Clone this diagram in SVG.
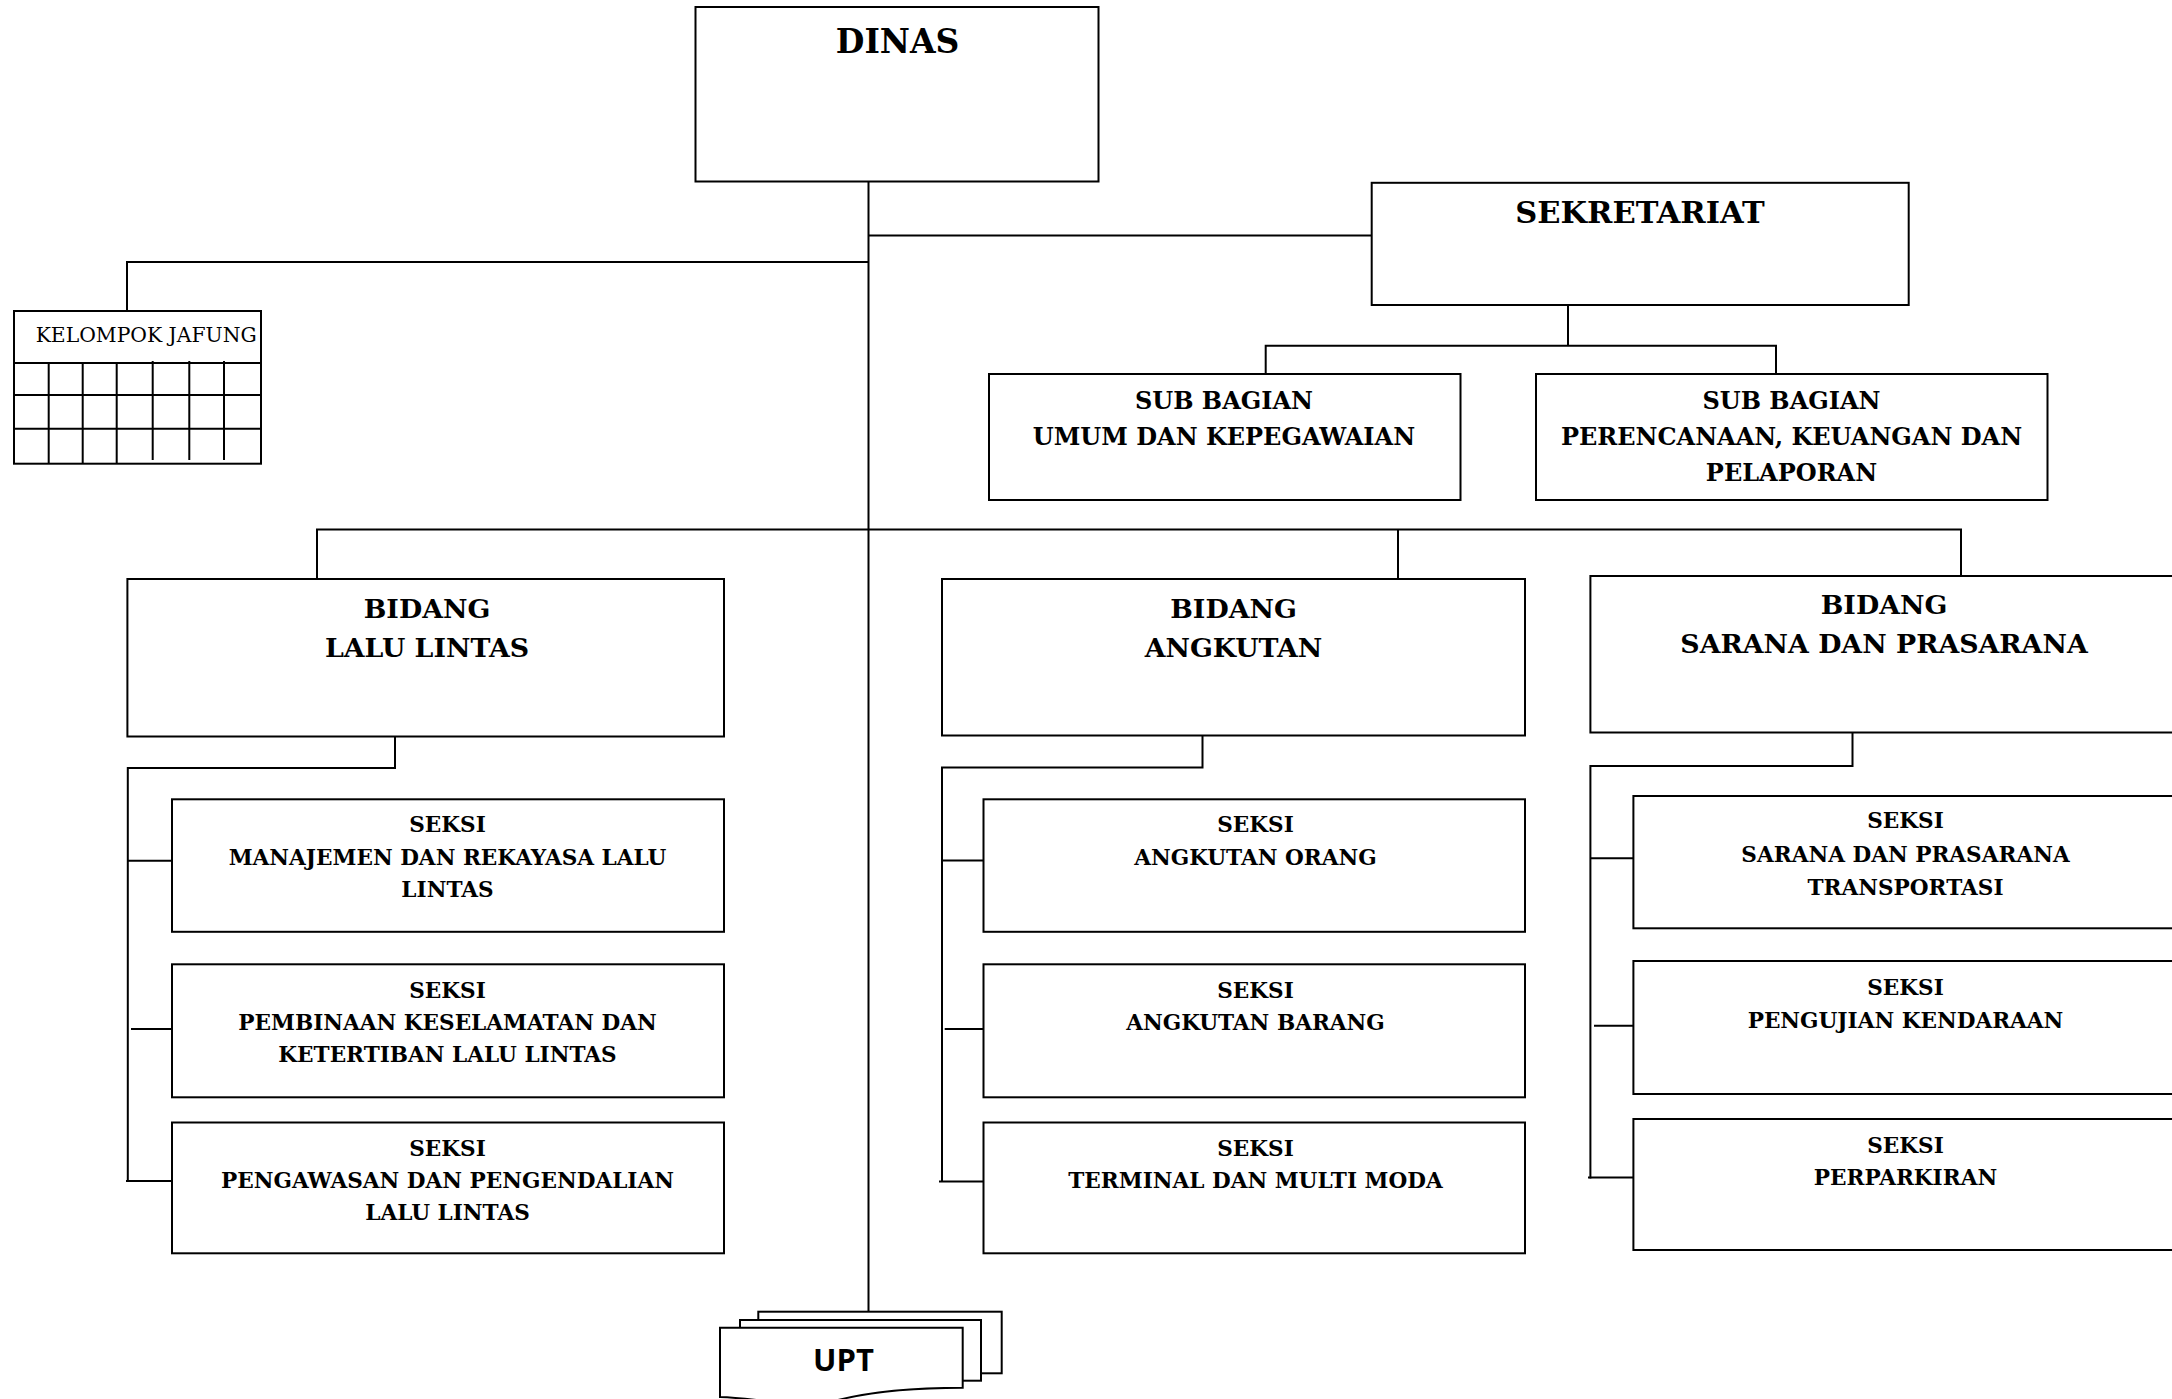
<svg xmlns="http://www.w3.org/2000/svg" width="2172" height="1399" viewBox="0 0 2172 1399">
<style>
.box{fill:#fff;stroke:#000;stroke-width:2}
.ln{fill:none;stroke:#000;stroke-width:2}
.g{fill:none;stroke:#000;stroke-width:2}
text{font-family:"DejaVu Serif","Liberation Serif",serif;font-weight:bold;fill:#000;text-anchor:middle}
.t33{font-size:33px}.t31{font-size:30.5px}.t27{font-size:26.8px}.t24{font-size:24px}.t22{font-size:21.6px}
.reg{font-weight:normal;font-size:20px;text-anchor:start}
.upt{font-family:"Open Sans","Liberation Sans",sans-serif;font-size:31px;font-weight:bold}
</style>
<rect width="2172" height="1399" fill="#fff"/>
<g id="connectors">
<path class="ln" d="M868.5,181.5 V1312"/>
<path class="ln" d="M868.5,235.5 H1371.7"/>
<path class="ln" d="M868.5,262 H127 V311"/>
<path class="ln" d="M1568,305 V345.7"/>
<path class="ln" d="M1265.7,374 V345.7 H1776 V383"/>
<path class="ln" d="M317,579 V529.5 H1961 V576"/>
<path class="ln" d="M1398,529.5 V579"/>
<path class="ln" d="M395,736.7 V768 H127.8 V1182"/>
<path class="ln" d="M127.8,860.7 H172"/>
<path class="ln" d="M131,1029 H174.6"/>
<path class="ln" d="M126,1181 H172"/>
<path class="ln" d="M1202.5,735.5 V767.5 H942 V1182"/>
<path class="ln" d="M942,860.5 H983.5"/>
<path class="ln" d="M944.7,1029 H985"/>
<path class="ln" d="M939,1181.5 H983.5"/>
<path class="ln" d="M1852.5,732.5 V766 H1590.4 V1178.5"/>
<path class="ln" d="M1590.4,858.3 H1633.4"/>
<path class="ln" d="M1594,1025.7 H1636"/>
<path class="ln" d="M1588,1177.5 H1633.4"/>
</g>
<g id="dinas">
<rect class="box" x="695.5" y="7" width="403" height="174.5"/>
<text class="t33" x="897.6" y="52.7">DINAS</text>
</g>
<g id="sekretariat">
<rect class="box" x="1371.7" y="182.8" width="537" height="122.2"/>
<text class="t31" x="1640" y="223.3">SEKRETARIAT</text>
</g>
<g id="kelompok-jafung">
<rect class="box" x="14" y="311" width="247" height="152.7"/>
<text class="reg" x="35.7" y="342.3" textLength="221" lengthAdjust="spacingAndGlyphs">KELOMPOK JAFUNG</text>
<path class="g" d="M14,363 H261 M14,395 H261 M14,428.7 H261 M48.7,363 V463 M82.7,363 V463 M116.7,363 V463 M152.7,361 V460 M189.3,361 V460 M224,361 V460"/>
</g>
<g id="subbag-umum">
<rect class="box" x="989" y="374" width="471.5" height="126"/>
<text class="t24" x="1224" y="409.3">SUB BAGIAN</text>
<text class="t24" x="1224" y="445.3">UMUM DAN KEPEGAWAIAN</text>
</g>
<g id="subbag-perencanaan">
<rect class="box" x="1536" y="374" width="511.5" height="126"/>
<text class="t24" x="1791.5" y="409.3">SUB BAGIAN</text>
<text class="t24" x="1791.5" y="445.3">PERENCANAAN, KEUANGAN DAN</text>
<text class="t24" x="1791.5" y="481">PELAPORAN</text>
</g>
<g id="bidang-lalu-lintas">
<rect class="box" x="127.4" y="579" width="596.6" height="157.5"/>
<text class="t27" x="427" y="617.8">BIDANG</text>
<text class="t27" x="427" y="656.7">LALU LINTAS</text>
</g>
<g id="bidang-angkutan">
<rect class="box" x="942" y="579" width="583" height="156.5"/>
<text class="t27" x="1233.5" y="617.8">BIDANG</text>
<text class="t27" x="1233.5" y="656.7">ANGKUTAN</text>
</g>
<g id="bidang-sarana">
<rect class="box" x="1590.4" y="576" width="600" height="156.5"/>
<text class="t27" x="1884" y="614">BIDANG</text>
<text class="t27" x="1884" y="653.3">SARANA DAN PRASARANA</text>
</g>
<g id="seksi-manajemen">
<rect class="box" x="172" y="799.3" width="552" height="132.5"/>
<text class="t22" x="447.5" y="831.5">SEKSI</text>
<text class="t22" x="447.5" y="864.8">MANAJEMEN DAN REKAYASA LALU</text>
<text class="t22" x="447.5" y="896.8">LINTAS</text>
</g>
<g id="seksi-pembinaan">
<rect class="box" x="172" y="964.3" width="552" height="133"/>
<text class="t22" x="447.5" y="998">SEKSI</text>
<text class="t22" x="447.5" y="1030.3">PEMBINAAN KESELAMATAN DAN</text>
<text class="t22" x="447.5" y="1061.8">KETERTIBAN LALU LINTAS</text>
</g>
<g id="seksi-pengawasan">
<rect class="box" x="172" y="1122.5" width="552" height="130.8"/>
<text class="t22" x="447.5" y="1156">SEKSI</text>
<text class="t22" x="447.5" y="1188">PENGAWASAN DAN PENGENDALIAN</text>
<text class="t22" x="447.5" y="1220">LALU LINTAS</text>
</g>
<g id="seksi-angkutan-orang">
<rect class="box" x="983.5" y="799.3" width="541.5" height="132.5"/>
<text class="t22" x="1255.5" y="831.5">SEKSI</text>
<text class="t22" x="1255.5" y="864.8">ANGKUTAN ORANG</text>
</g>
<g id="seksi-angkutan-barang">
<rect class="box" x="983.5" y="964.3" width="541.5" height="133"/>
<text class="t22" x="1255.5" y="998">SEKSI</text>
<text class="t22" x="1255.5" y="1030.3">ANGKUTAN BARANG</text>
</g>
<g id="seksi-terminal">
<rect class="box" x="983.5" y="1122.5" width="541.5" height="130.8"/>
<text class="t22" x="1255.5" y="1156">SEKSI</text>
<text class="t22" x="1255.5" y="1188">TERMINAL DAN MULTI MODA</text>
</g>
<g id="seksi-sarana">
<rect class="box" x="1633.4" y="796" width="560" height="132.3"/>
<text class="t22" x="1905.5" y="828.3">SEKSI</text>
<text class="t22" x="1905.5" y="861.5">SARANA DAN PRASARANA</text>
<text class="t22" x="1905.5" y="894.5">TRANSPORTASI</text>
</g>
<g id="seksi-pengujian">
<rect class="box" x="1633.4" y="961" width="560" height="133"/>
<text class="t22" x="1905.5" y="994.5">SEKSI</text>
<text class="t22" x="1905.5" y="1027.5">PENGUJIAN KENDARAAN</text>
</g>
<g id="seksi-perparkiran">
<rect class="box" x="1633.4" y="1119" width="560" height="131"/>
<text class="t22" x="1905.5" y="1152.5">SEKSI</text>
<text class="t22" x="1905.5" y="1184.5">PERPARKIRAN</text>
</g>
<g id="upt">
<rect class="box" x="758.3" y="1311.7" width="243.4" height="61.6"/>
<rect class="box" x="740" y="1320" width="241" height="60.7"/>
<path class="box" d="M720,1327.7 H962.7 V1387.7 C910,1387.7 870,1392 838,1400 L820,1406 C780,1404 750,1398 720,1397 Z"/>
<text class="upt" x="843.5" y="1371">UPT</text>
</g>
</svg>
